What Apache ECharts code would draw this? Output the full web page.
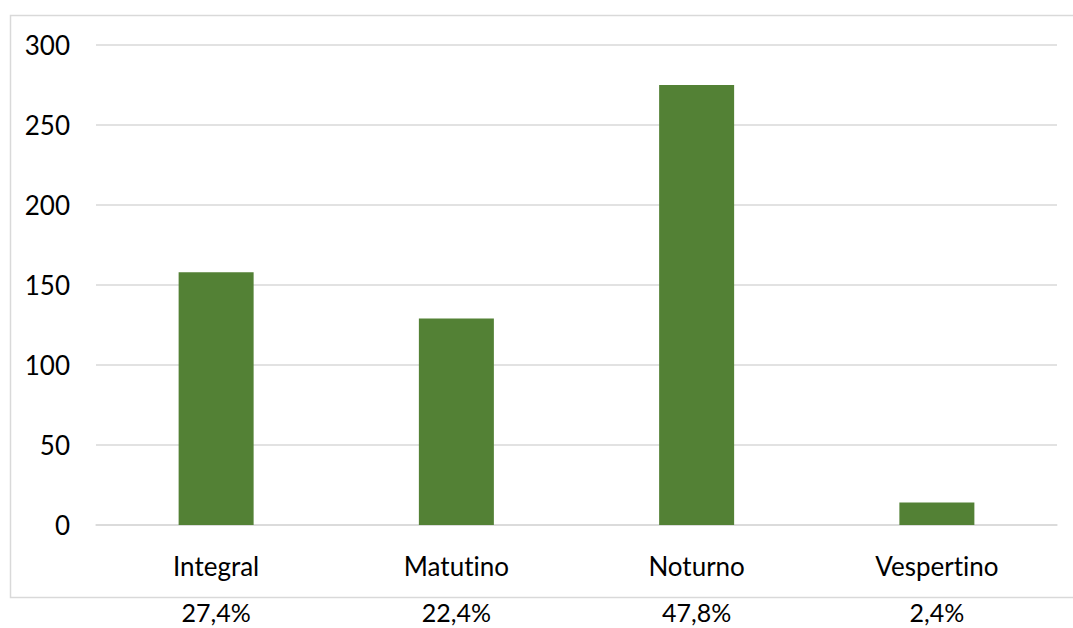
<!DOCTYPE html>
<html>
<head>
<meta charset="utf-8">
<script src="https://cdn.jsdelivr.net/npm/echarts@6/dist/echarts.min.js"></script>
<style>
html,body{margin:0;padding:0;background:#fff;}
#c{width:1073px;height:628px;}
#c text{font-variant-ligatures:none;font-feature-settings:"liga" 0,"clig" 0;}
</style>
</head>
<body>
<div id="c"></div>
<script>
const categories = ['Integral', 'Matutino', 'Noturno', 'Vespertino'];
const values = [158, 129, 275, 14];
const percentLabels = ['27,4%', '22,4%', '47,8%', '2,4%'];
const yTicks = [0, 50, 100, 150, 200, 250, 300];

const FONT = 'Lato';
const chart = echarts.init(document.getElementById('c'), null, {renderer: 'svg'});
chart.setOption({
  animation: false,
  backgroundColor: '#ffffff',
  graphic: [{
    type: 'rect',
    shape: {x: 10.5, y: 15.5, width: 1080, height: 582},
    style: {fill: 'none', stroke: '#d9d9d9', lineWidth: 1.5},
    silent: true, z: -1
  }],
  grid: {left: 96, right: 16, top: 45, bottom: 103, containLabel: false},
  xAxis: [{
    type: 'category',
    data: categories,
    position: 'bottom',
    axisLine: {show: true, lineStyle: {color: '#d9d9d9', width: 1.5}},
    axisTick: {show: false},
    axisLabel: {color: '#000', fontFamily: FONT, fontSize: 26, lineHeight: 26, margin: 28}
  }, {
    type: 'category',
    data: percentLabels,
    position: 'bottom',
    offset: 54,
    axisLine: {show: false},
    axisTick: {show: false},
    axisLabel: {color: '#000', fontFamily: FONT, fontSize: 25, lineHeight: 20, margin: 23}
  }],
  yAxis: {
    type: 'value',
    min: yTicks[0],
    max: yTicks[yTicks.length - 1],
    interval: yTicks[1] - yTicks[0],
    axisLine: {show: false},
    axisTick: {show: false},
    splitLine: {lineStyle: {color: '#d9d9d9', width: 1.5}},
    axisLabel: {color: '#000', fontFamily: FONT, fontSize: 26, margin: 26}
  },
  series: [{
    type: 'bar',
    xAxisIndex: 0,
    data: values,
    barWidth: 75,
    itemStyle: {color: '#538135'}
  }]
});
</script>
</body>
</html>
